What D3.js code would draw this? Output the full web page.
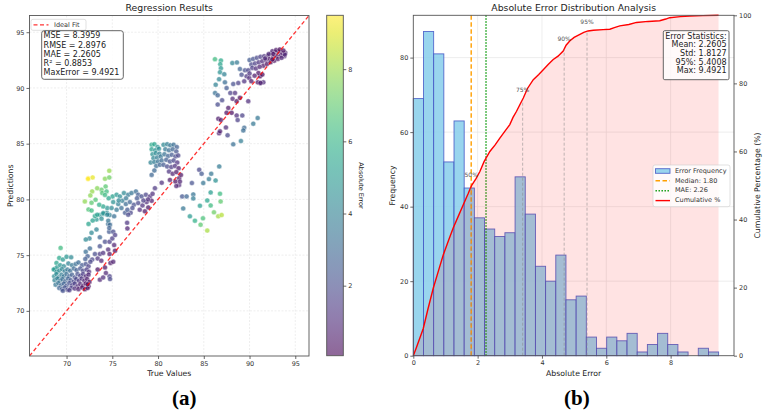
<!DOCTYPE html>
<html><head><meta charset="utf-8">
<script src="https://cdn.jsdelivr.net/npm/d3@7/dist/d3.min.js"></script>
<style>body{margin:0;background:#fff;} text{font-family:"DejaVu Sans",sans-serif;}</style>
</head><body><svg id="c" width="766" height="415" xmlns="http://www.w3.org/2000/svg"></svg>
<script>
// ---------------- DATA ----------------
// Scatter (true value, prediction), grouped by cluster
const clusterA = [
[69.35,75.65],[69.2,74.75],[69.6,74.6],[70.0,74.85],[70.5,74.8],[68.9,74.3],
[68.7,73.75],[68.95,73.9],[69.3,74.1],[69.7,74.0],[70.2,74.25],[70.6,74.1],[71.0,74.2],[71.3,74.35],[71.7,74.1],[72.1,74.2],[72.4,74.0],
[68.6,73.7],[68.9,73.5],[69.2,73.6],[69.5,73.75],[69.8,73.55],[70.1,73.7],[70.4,73.6],[70.8,73.8],[71.1,73.65],[71.5,73.8],[71.8,73.6],[72.2,73.7],[72.45,73.5],
[68.65,73.1],[68.9,73.3],[69.15,73.0],[69.45,73.25],[69.7,73.1],[70.0,73.3],[70.3,73.1],[70.6,73.25],[70.9,73.0],[71.2,73.3],[71.5,73.15],[71.8,73.3],[72.1,73.1],[72.4,73.25],
[68.7,72.75],[69.0,72.9],[69.3,72.7],[69.55,72.85],[69.85,72.65],[70.15,72.9],[70.45,72.75],[70.75,72.6],[71.05,72.85],[71.35,72.7],[71.65,72.9],[71.95,72.7],[72.25,72.85],[72.5,72.6],
[68.8,72.35],[69.1,72.5],[69.4,72.3],[69.7,72.45],[70.0,72.25],[70.3,72.5],[70.6,72.3],[70.9,72.45],[71.2,72.2],[71.5,72.4],[71.8,72.25],[72.1,72.45],[72.4,72.2],
[69.2,72.05],[69.5,71.95],[69.8,72.1],[70.1,71.9],[70.5,72.05],[70.9,72.0],[71.3,71.95],[71.7,72.1],[72.0,71.95],[72.3,72.05],[69.6,71.8],[70.3,71.85],[72.3,72.38]
];
const clusterB = [
[72.0,79.82],[72.73,79.7],[72.4,79.1],[72.73,79.0],[72.4,77.8],[72.73,77.0],[72.5,76.5],[72.1,76.4],[73.27,77.3],[73.27,78.2],[73.1,78.5],[73.64,78.6],[74.0,78.7],[74.4,78.8],[74.7,78.6],[74.55,77.8],[74.66,77.1],[75.1,77.1],[73.64,76.6],[74.2,76.2],[74.7,76.2],[73.64,75.8],[73.1,75.1],[73.64,75.1],[74.0,75.2],[74.55,75.5],[74.7,75.1],[72.8,74.6],[73.4,74.7],[73.8,74.5],[74.2,73.9],[73.4,73.7],[73.64,72.8],[74.0,73.0],[74.7,73.1],[74.75,72.85],[74.3,73.4],[74.8,74.3],[75.1,74.4],[75.3,75.4],[76.62,77.9],[76.65,77.4],[76.4,78.8],[77.0,78.8],
[72.1,75.3],[72.55,75.6],[72.3,74.9],[72.6,74.4],[72.05,74.65],[75.2,75.9],[75.0,76.5],[75.3,76.8],
[72.37,81.9],[72.85,81.97],[72.35,81.84],[74.2,81.85],[74.67,81.97],[74.67,82.57],[74.27,81.16],[73.82,80.87],[73.35,81.0],[72.8,80.72],[72.6,80.36],[73.17,79.97],[73.9,80.57],[74.37,80.72],
[73.35,78.63],[72.85,78.1],[74.01,78.78],[74.45,78.63],[73.82,78.27],[74.56,78.09],[74.74,77.73],[74.45,79.22],
[75.03,80.27],[75.47,80.42],[75.83,80.27],[76.27,80.57],[76.74,80.42],[77.1,80.57],[77.58,80.72],[77.83,80.42],[78.2,80.27],[78.67,80.42],[79.11,80.27],[75.1,79.76],[75.65,79.58],[76.1,79.88],[76.48,79.58],[76.92,79.76],[77.36,79.52],[77.83,79.67],[78.3,79.46],[78.75,79.76],[79.3,79.88],[74.92,79.22],[75.47,79.07],[76.0,79.22],[76.65,79.07],[77.2,79.22],[78.0,79.07],[78.93,79.28],[78.56,78.93],[74.0,79.37],[73.57,79.52],[76.74,78.63],[75.2,78.48],[74.67,77.43],[79.66,81.01],
[78.9,80.0],[79.4,80.5],[78.4,79.9],[77.7,80.1],[76.5,80.1],[75.7,79.9],[74.6,80.1],[74.2,80.4]
];
const clusterC = [
[79.3,84.9],[79.6,84.95],[79.95,84.7],[79.3,84.5],[79.7,84.4],[80.1,84.55],[79.4,84.05],[79.75,84.15],[80.15,84.1],[79.5,83.7],[79.9,83.75],[80.3,83.85],[79.2,83.3],[79.6,83.35],[80.0,83.4],[80.4,83.5],[79.8,83.0],[80.2,83.1],[79.3,82.2],[79.6,82.6],
[80.6,84.9],[81.0,84.95],[81.35,84.85],[81.7,84.9],[82.05,84.7],[80.8,84.5],[81.2,84.4],[81.6,84.5],[82.0,84.3],[80.7,84.05],[81.1,83.9],[81.5,84.0],[81.9,83.85],[82.2,83.95],[80.9,83.55],[81.3,83.4],[81.7,83.5],[82.1,83.3],[80.6,83.1],[81.0,82.95],[81.45,82.9],[81.85,83.0],[82.25,82.8],[81.2,82.5],[81.6,82.3],[82.0,82.45],[82.3,81.9],[81.9,81.6],[82.3,81.3],[80.4,81.5],[81.3,81.75],[82.5,82.2],[82.39,81.6],[82.0,81.2]
];
const clusterD = [
[86.69,82.96],[84.5,82.66],[84.76,82.3],[85.81,82.3],[85.56,81.82],[86.29,81.7],[84.94,81.47],[83.7,81.47],[85.75,80.63],[86.77,80.51],[82.64,80.27],[83.12,80.27],[83.85,80.45],[83.85,80.09],[85.38,79.91],[86.84,79.82],[84.58,79.43],[85.75,79.46],[82.75,79.19],[86.11,78.84],[86.58,78.48],[86.95,78.6],[83.48,78.48],[84.91,78.3],[84.03,78.09],[84.65,77.73],[85.38,77.2]
];
const clusterE = [
[86.22,92.58],[86.87,92.46],[86.8,92.13],[86.87,91.77],[86.77,91.41],[87.24,91.23],[86.67,90.79],[88.12,92.23],[88.62,92.29],[88.95,91.7],[89.5,91.58],[89.86,91.58],[89.13,91.19],[89.68,91.04],[89.97,90.89],[89.42,90.59],[87.31,90.5],[88.22,90.35],[88.77,90.44],[87.49,89.99],[86.3,90.29],[86.23,89.55],[86.52,89.34],[87.9,89.55],[88.41,89.55],[87.0,88.9],[88.15,89.02],[88.59,88.81],[88.95,89.11],[89.86,88.81],[86.52,88.51],[87.68,88.21],[87.49,87.77],[88.04,87.77],[88.59,87.53],[89.21,87.53],[86.59,87.24],[86.87,87.12],[88.7,87.12],[87.42,86.46],[86.67,85.93],[86.77,86.11],[87.6,85.75],[89.42,86.43],[89.32,86.19],[90.89,87.3],[90.41,86.79],[88.22,84.94],[89.06,85.24],[91.15,90.44],[91.51,90.5],[91.15,91.04],[90.97,91.34]
];
const clusterF = [
[90.0,92.5],[90.2,92.1],[90.4,92.6],[90.6,92.2],[90.8,92.7],[91.0,92.3],[91.2,92.8],[91.4,92.4],[91.6,92.85],[91.8,92.5],[92.0,92.9],[92.2,92.6],[92.4,93.1],[92.6,92.75],[92.8,93.2],[93.0,92.85],[93.2,93.25],[93.4,92.9],[93.6,93.1],[93.8,92.85],[93.9,93.15],[92.5,93.3],[92.9,93.4],[93.3,93.45],[91.5,92.0],[91.9,92.15],[92.3,92.3],[92.7,92.45],[93.1,92.6],[93.5,92.7],[93.85,93.0],[90.3,91.8],[90.7,91.75],[91.1,91.9],[90.9,90.5],[91.2,90.45],[90.55,91.1],[90.0,91.3],[91.4,91.2],[90.2,90.6],[92.1,93.05],[92.6,93.05],[91.7,92.65],[93.7,93.35],[92.5,92.56]
];
const xTicksL = [70,75,80,85,90,95];
const yTicksL = [70,75,80,85,90,95];
const cbTicks = [2,4,6,8];
const statsLeft = ["MSE = 8.3959","RMSE = 2.8976","MAE = 2.2605","R\u00b2 = 0.8853","MaxError = 9.4921"];

// Histogram of absolute errors
const maxError = 9.4921;
const binCounts = [69,87,81,52,63,45,37,34,32,33,48,38,24,20,27,15,16,5,2,5,4,6,1,3,6,3,1,0,2,1];
const cumErr = [0,0.1,0.31,0.45,0.62,0.8,0.93,1.1,1.24,1.4,1.55,1.7,1.81,1.95,2.07,2.2,2.38,2.55,2.69,2.85,3.0,3.1,3.21,3.3,3.42,3.55,3.73,3.9,4.04,4.2,4.35,4.5,4.66,4.75,4.87,5.0,5.18,5.3,5.43,5.6,5.9,6.11,6.25,6.42,6.7,6.94,7.3,7.66,7.85,7.97,8.3,8.6,9.0,9.49];
const cumPct = [0,2.5,8.0,13.5,19.8,25.5,29.6,34.0,37.5,41.0,44.3,47.5,50.0,52.0,54.1,57.0,60.0,62.0,63.9,66.0,67.9,70.0,71.8,73.5,75.7,78.5,81.1,82.6,84.0,85.6,87.0,88.0,89.5,91.2,92.5,93.5,94.4,95.0,95.4,95.6,95.8,95.9,96.4,96.9,97.3,97.9,98.2,98.4,98.9,99.3,99.6,99.8,99.9,100];
const pctLevels = [50,75,90,95];
const pctValues = [1.80,3.40,4.69,5.4008];
const medianErr = 1.80, maeErr = 2.2605;
const xTicksR = [0,2,4,6,8];
const yTicksF = [0,20,40,60,80];
const yTicksP = [0,20,40,60,80,100];
const legendLabels = ["Error Frequency","Median: 1.80","MAE: 2.26","Cumulative %"];
const statsRight = ["Error Statistics:","Mean: 2.2605","Std: 1.8127","95%: 5.4008","Max: 9.4921"];

// ---------------- DRAW ----------------
const svg = d3.select("#c");
const FONT = "DejaVu Sans";
function styleAxis(g, size){
  g.select(".domain").remove();
  g.selectAll("line").attr("stroke","#444").attr("stroke-width",0.8);
  g.selectAll("text").attr("fill","#333").style("font-size",(size||6.5)+"px").style("font-family",FONT);
}

// ===== Left panel =====
const L = {l:29.5, r:309, t:15.5, b:356};
const diagDomain = [65.95, 96.5];
const xL = d3.scaleLinear().domain(diagDomain).range([L.l, L.r]);
const yL = d3.scaleLinear().domain(diagDomain).range([L.b, L.t]);

const gl = svg.append("g");
gl.selectAll(".gx").data(xTicksL).join("line").attr("x1",d=>xL(d)).attr("x2",d=>xL(d)).attr("y1",L.t).attr("y2",L.b)
  .attr("stroke","#e3e3e3").attr("stroke-width",0.6).attr("stroke-dasharray","2,1.5");
gl.selectAll(".gy").data(yTicksL).join("line").attr("y1",d=>yL(d)).attr("y2",d=>yL(d)).attr("x1",L.l).attr("x2",L.r)
  .attr("stroke","#e3e3e3").attr("stroke-width",0.6).attr("stroke-dasharray","2,1.5");

svg.append("clipPath").attr("id","clipL").append("rect").attr("x",L.l).attr("y",L.t).attr("width",L.r-L.l).attr("height",L.b-L.t);

const pts = [...clusterA,...clusterB,...clusterC,...clusterD,...clusterE,...clusterF].map(([t,p])=>({t,p,e:Math.abs(p-t)}));
const eExt = [0.06, maxError];
const color = d3.scaleSequential(d3.interpolateViridis).domain(eExt).clamp(true);

const gpts = svg.append("g").attr("clip-path","url(#clipL)");
gpts.selectAll("circle").data(pts).join("circle")
  .attr("cx",d=>xL(d.t)).attr("cy",d=>yL(d.p)).attr("r",2.5)
  .attr("fill",d=>color(d.e)).attr("fill-opacity",0.7)
  .attr("stroke","#fff").attr("stroke-width",0.5).attr("stroke-opacity",0.8);

gpts.append("line").attr("x1",xL(diagDomain[0])).attr("y1",yL(diagDomain[0])).attr("x2",xL(diagDomain[1])).attr("y2",yL(diagDomain[1]))
  .attr("stroke","#ff0000").attr("stroke-opacity",0.8).attr("stroke-width",1.3).attr("stroke-dasharray","4,2.5");

svg.append("rect").attr("x",L.l).attr("y",L.t).attr("width",L.r-L.l).attr("height",L.b-L.t)
  .attr("fill","none").attr("stroke","#555").attr("stroke-width",0.9);

styleAxis(svg.append("g").attr("transform",`translate(0,${L.b})`).call(d3.axisBottom(xL).tickValues(xTicksL).tickSize(3).tickPadding(2).tickSizeOuter(0)));
styleAxis(svg.append("g").attr("transform",`translate(${L.l},0)`).call(d3.axisLeft(yL).tickValues(yTicksL).tickSize(3).tickPadding(2).tickSizeOuter(0)));

svg.append("text").attr("x",(L.l+L.r)/2).attr("y",8.3).attr("text-anchor","middle").attr("dominant-baseline","middle")
  .style("font-size","9.3px").attr("fill","#222").text("Regression Results");
svg.append("text").attr("x",(L.l+L.r)/2).attr("y",373.7).attr("text-anchor","middle").attr("dominant-baseline","middle")
  .style("font-size","7.75px").attr("fill","#222").text("True Values");
svg.append("text").attr("transform",`translate(11.2,${(L.t+L.b)/2}) rotate(-90)`).attr("text-anchor","middle").attr("dominant-baseline","middle")
  .style("font-size","7.75px").attr("fill","#222").text("Predictions");

// Ideal fit legend
svg.append("rect").attr("x",31).attr("y",19.3).attr("width",55).attr("height",11).attr("rx",2)
  .attr("fill","#fff").attr("fill-opacity",0.8).attr("stroke","#ccc").attr("stroke-width",0.6);
svg.append("line").attr("x1",33.5).attr("x2",48.5).attr("y1",24.8).attr("y2",24.8)
  .attr("stroke","#ff0000").attr("stroke-opacity",0.8).attr("stroke-width",1.3).attr("stroke-dasharray","4,2.5");
svg.append("text").attr("x",54).attr("y",24.8).attr("dominant-baseline","middle").style("font-size","6.5px").attr("fill","#333").text("Ideal Fit");

// Stats box left
svg.append("rect").attr("x",41.7).attr("y",30.7).attr("width",81.6).attr("height",48.6).attr("rx",2.5)
  .attr("fill","#fff").attr("fill-opacity",0.85).attr("stroke","#555").attr("stroke-width",0.9);
svg.selectAll(".sl").data(statsLeft).join("text").attr("x",43.6).attr("y",(d,i)=>35.9+i*9.25)
  .attr("dominant-baseline","middle").style("font-size","8px").attr("fill","#222").text(d=>d);

// Colorbar
const CB = {l:326.7, r:343.3, t:15.3, b:355.7};
const yC = d3.scaleLinear().domain(eExt).range([CB.b, CB.t]);
const grad = svg.append("defs").append("linearGradient").attr("id","vir").attr("x1",0).attr("x2",0).attr("y1",1).attr("y2",0);
d3.range(0,1.0001,0.05).forEach(f=>grad.append("stop").attr("offset",f).attr("stop-color",d3.interpolateViridis(f)));
svg.append("rect").attr("x",CB.l).attr("y",CB.t).attr("width",CB.r-CB.l).attr("height",CB.b-CB.t).attr("fill","url(#vir)").attr("fill-opacity",0.6);
svg.append("rect").attr("x",CB.l).attr("y",CB.t).attr("width",CB.r-CB.l).attr("height",CB.b-CB.t).attr("fill","none").attr("stroke","#555").attr("stroke-width",0.9);
styleAxis(svg.append("g").attr("transform",`translate(${CB.r},0)`).call(d3.axisRight(yC).tickValues(cbTicks).tickSize(3).tickPadding(2).tickSizeOuter(0)));
svg.append("text").attr("transform",`translate(361,${(CB.t+CB.b)/2}) rotate(90)`).attr("text-anchor","middle").attr("dominant-baseline","middle")
  .style("font-size","6.5px").attr("fill","#222").text("Absolute Error");

// ===== Right panel =====
const R = {l:413.3, r:734, t:15.3, b:355.7};
const xR = d3.scaleLinear().domain([0, 9.97]).range([R.l, R.r]);
const yF = d3.scaleLinear().domain([0, 91.35]).range([R.b, R.t]);
const yP = d3.scaleLinear().domain([0, 100]).range([R.b, R.t]);

const gr = svg.append("g");
gr.selectAll(".gx").data(xTicksR.slice(1)).join("line").attr("x1",d=>xR(d)).attr("x2",d=>xR(d)).attr("y1",R.t).attr("y2",R.b)
  .attr("stroke","#e6e6e6").attr("stroke-width",0.7);
gr.selectAll(".gy").data(yTicksF.slice(1)).join("line").attr("y1",d=>yF(d)).attr("y2",d=>yF(d)).attr("x1",R.l).attr("x2",R.r)
  .attr("stroke","#e6e6e6").attr("stroke-width",0.7);

const binW = maxError / binCounts.length;
const bins = binCounts.map((c,i)=>({x0:i*binW, x1:(i+1)*binW, c}));
gr.selectAll(".bar").data(bins.filter(b=>b.c>0)).join("rect")
  .attr("x",d=>xR(d.x0)).attr("width",d=>xR(d.x1)-xR(d.x0))
  .attr("y",d=>yF(d.c)).attr("height",d=>yF(0)-yF(d.c))
  .attr("fill","#87ceeb").attr("fill-opacity",0.85).attr("stroke","#3f52c4").attr("stroke-opacity",0.85).attr("stroke-width",0.9);

// median & MAE lines
gr.append("line").attr("x1",xR(medianErr)).attr("x2",xR(medianErr)).attr("y1",R.t).attr("y2",R.b)
  .attr("stroke","#ff9f00").attr("stroke-width",1.4).attr("stroke-dasharray","4.5,2.5");
gr.append("line").attr("x1",xR(maeErr)).attr("x2",xR(maeErr)).attr("y1",R.t).attr("y2",R.b)
  .attr("stroke","#0a9a0a").attr("stroke-width",1.4).attr("stroke-dasharray","1.4,1.6");

// legend (under the pink fill)
const lg = svg.append("g");
lg.append("rect").attr("x",653).attr("y",165).attr("width",77).attr("height",41.7).attr("rx",2)
  .attr("fill","#fff").attr("fill-opacity",0.8).attr("stroke","#ccc").attr("stroke-width",0.6);
const ly = [171, 180.8, 190.7, 200.6];
lg.append("rect").attr("x",655.5).attr("y",ly[0]-2.3).attr("width",14.5).attr("height",4.6)
  .attr("fill","#87ceeb").attr("fill-opacity",0.85).attr("stroke","#3f52c4").attr("stroke-opacity",0.85).attr("stroke-width",0.9);
lg.append("line").attr("x1",655.5).attr("x2",670).attr("y1",ly[1]).attr("y2",ly[1]).attr("stroke","#ff9f00").attr("stroke-width",1.4).attr("stroke-dasharray","4.5,2.5");
lg.append("line").attr("x1",655.5).attr("x2",670).attr("y1",ly[2]).attr("y2",ly[2]).attr("stroke","#0a9a0a").attr("stroke-width",1.4).attr("stroke-dasharray","1.4,1.6");
lg.append("line").attr("x1",655.5).attr("x2",670).attr("y1",ly[3]).attr("y2",ly[3]).attr("stroke","#ff0000").attr("stroke-width",1.4);
lg.selectAll(".lt").data(legendLabels).join("text").attr("x",675).attr("y",(d,i)=>ly[i])
  .attr("dominant-baseline","middle").style("font-size","6.5px").attr("fill","#333").text(d=>d);

// pink fill under cumulative curve
const cum = cumErr.map((e,i)=>({e, p:cumPct[i]}));
gr.append("path").datum(cum).attr("d",d3.area().x(d=>xR(d.e)).y0(yP(0)).y1(d=>yP(d.p)))
  .attr("fill","#ff0000").attr("fill-opacity",0.11);
gr.append("path").datum(cum).attr("d",d3.line().x(d=>xR(d.e)).y(d=>yP(d.p)))
  .attr("fill","none").attr("stroke","#ff0000").attr("stroke-width",1.4);

// percentile markers
pctLevels.forEach((lv,i)=>{
  gr.append("line").attr("x1",xR(pctValues[i])).attr("x2",xR(pctValues[i])).attr("y1",yP(0)).attr("y2",yP(lv))
    .attr("stroke","#888").attr("stroke-opacity",0.7).attr("stroke-width",0.8).attr("stroke-dasharray","3,2");
  gr.append("text").attr("x",xR(pctValues[i])).attr("y",yP(lv+3)).attr("text-anchor","middle").attr("dominant-baseline","middle")
    .style("font-size","6px").attr("fill","#555").text(lv+"%");
});

// stats box right
svg.append("rect").attr("x",663.3).attr("y",30.7).attr("width",65.7).attr("height",49).attr("rx",1.5)
  .attr("fill","#fff").attr("fill-opacity",0.8).attr("stroke","#555").attr("stroke-width",0.9);
svg.selectAll(".sr").data(statsRight).join("text").attr("x",726.6).attr("y",(d,i)=>36.3+i*8.6)
  .attr("text-anchor","end").attr("dominant-baseline","middle").style("font-size","8px").attr("fill","#222").text(d=>d);

svg.append("rect").attr("x",R.l).attr("y",R.t).attr("width",R.r-R.l).attr("height",R.b-R.t)
  .attr("fill","none").attr("stroke","#555").attr("stroke-width",0.9);
styleAxis(svg.append("g").attr("transform",`translate(0,${R.b})`).call(d3.axisBottom(xR).tickValues(xTicksR).tickSize(3).tickPadding(2).tickSizeOuter(0)));
styleAxis(svg.append("g").attr("transform",`translate(${R.l},0)`).call(d3.axisLeft(yF).tickValues(yTicksF).tickSize(3).tickPadding(2).tickSizeOuter(0)));
styleAxis(svg.append("g").attr("transform",`translate(${R.r},0)`).call(d3.axisRight(yP).tickValues(yTicksP).tickSize(3).tickPadding(2).tickSizeOuter(0)));

svg.append("text").attr("x",(R.l+R.r)/2).attr("y",8.3).attr("text-anchor","middle").attr("dominant-baseline","middle")
  .style("font-size","9.3px").attr("fill","#222").text("Absolute Error Distribution Analysis");
svg.append("text").attr("x",(R.l+R.r)/2).attr("y",373.7).attr("text-anchor","middle").attr("dominant-baseline","middle")
  .style("font-size","7.75px").attr("fill","#222").text("Absolute Error");
svg.append("text").attr("transform",`translate(393.3,${(R.t+R.b)/2}) rotate(-90)`).attr("text-anchor","middle").attr("dominant-baseline","middle")
  .style("font-size","7.75px").attr("fill","#222").text("Frequency");
svg.append("text").attr("transform",`translate(758.3,${(R.t+R.b)/2}) rotate(-90)`).attr("text-anchor","middle").attr("dominant-baseline","middle")
  .style("font-size","7.75px").attr("fill","#222").text("Cumulative Percentage (%)");

// panel captions
svg.append("text").attr("x",184.3).attr("y",400).attr("text-anchor","middle").attr("dominant-baseline","middle")
  .style("font-family","'Liberation Serif',serif").style("font-size","21px").style("font-weight","bold").attr("fill","#000").text("(a)");
svg.append("text").attr("x",576.8).attr("y",400).attr("text-anchor","middle").attr("dominant-baseline","middle")
  .style("font-family","'Liberation Serif',serif").style("font-size","21px").style("font-weight","bold").attr("fill","#000").text("(b)");
</script></body></html>
